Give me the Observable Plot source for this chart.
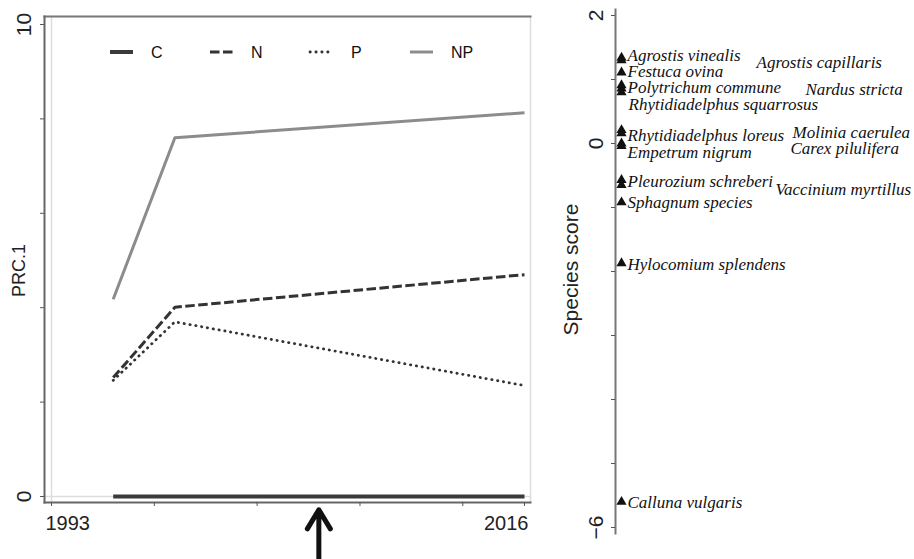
<!DOCTYPE html>
<html><head><meta charset="utf-8">
<script src="https://cdn.jsdelivr.net/npm/d3@7"></script>
<script src="https://cdn.jsdelivr.net/npm/@observablehq/plot@0.6"></script>
<style>
body{margin:0;background:#fff;}
#wrap{position:relative;width:914px;height:559px;overflow:hidden;font-family:"Liberation Sans",Arial,sans-serif;}
#left{position:absolute;left:0;top:0;}
#right{position:absolute;left:560px;top:0;}
#legend{position:absolute;left:0;top:0;}
svg{overflow:visible;}
</style></head><body>
<div id="wrap"><div id="left"></div><div id="right"></div><div id="legend"></div></div>
<script>
// ---- data: principal response curves ----
const years = [1996, 1999, 2016];
const treatments = ["C", "N", "P", "NP"];
const prcC  = [0, 0, 0];
const prcN  = [2.52, 4.01, 4.70];
const prcP  = [2.46, 3.70, 2.35];
const prcNP = [4.18, 7.60, 8.13];
const xTicks = [1993, 1998, 2003, 2008, 2013, 2016];
const xTickLabels = [1993, 2016];
const yTicks = [0, 2, 4, 6, 8, 10];
const yTickLabels = [0, 10];
const arrowYear = [2006];

// ---- data: species scores ----
const species = ["Agrostis vinealis", "Agrostis capillaris", "Festuca ovina", "Polytrichum commune",
  "Nardus stricta", "Rhytidiadelphus squarrosus", "Rhytidiadelphus loreus", "Molinia caerulea",
  "Empetrum nigrum", "Carex pilulifera", "Pleurozium schreberi", "Vaccinium myrtillus",
  "Sphagnum species", "Hylocomium splendens", "Calluna vulgaris"];
const speciesScore = [1.34, 1.30, 1.11, 0.91, 0.86, 0.80, 0.21, 0.16, 0.00, -0.04, -0.57, -0.65, -0.92, -1.87, -5.60];
const scoreTicks = [-6, -5, -4, -3, -2, -1, 0, 1, 2];
const scoreTickLabels = [-6, 0, 2];

// ---- layout (label nudges in px, not data) ----
const labelDx = [12, 141, 12, 12, 190, 13, 12, 177, 12, 175, 12, 160, 12, 12, 12];
const labelDy = [-2, 2, -1, 2, 1, 12, 5, -1, 9, 2, 2, 4, 0, 1, 1];

const series = [prcC, prcN, prcP, prcNP];
const rows = treatments.flatMap((t, i) => years.map((yr, j) => ({treatment: t, year: yr, prc: series[i][j]})));
const lineStyle = {
  C:  {stroke: "#3a3a3a", strokeWidth: 4,   strokeDasharray: null, strokeLinecap: "butt"},
  N:  {stroke: "#333",    strokeWidth: 3,   strokeDasharray: "9.5 3.5", strokeLinecap: "butt"},
  P:  {stroke: "#333",    strokeWidth: 2.8, strokeDasharray: "0.3 5.6", strokeLinecap: "round"},
  NP: {stroke: "#8c8c8c", strokeWidth: 3,   strokeDasharray: null, strokeLinecap: "butt"}
};
const drawOrder = ["NP", "N", "P", "C"];
const fmt = d => (d < 0 ? "\u2212" + Math.abs(d) : String(d));

const left = Plot.plot({
  width: 560, height: 559,
  marginLeft: 44, marginRight: 30, marginTop: 16, marginBottom: 57,
  x: {domain: [1993, 2016], insetLeft: 7, insetRight: 6},
  y: {domain: [0, 10], insetTop: 8, insetBottom: 6},
  style: {fontFamily: "Liberation Sans, Arial, sans-serif", fontSize: "20px", color: "#222", background: "transparent", overflow: "visible"},
  marks: [
    Plot.ruleX([1993], {stroke: "#ddd", strokeWidth: 1.5}),
    Plot.ruleY([0], {stroke: "#ddd", strokeWidth: 1.5}),
    Plot.frame({anchor: "right", stroke: "#ddd", strokeWidth: 1.5}),
    Plot.frame({anchor: "top", stroke: "#777", strokeWidth: 2}),
    Plot.frame({anchor: "left", stroke: "#666", strokeWidth: 2}),
    Plot.frame({anchor: "bottom", stroke: "#666", strokeWidth: 2}),
    Plot.axisY(yTicks, {tickSize: 4, tickPadding: 10, tickRotate: -90, stroke: "#555", label: null, fontSize: 21,
      tickFormat: d => yTickLabels.includes(d) ? fmt(d) : ""}),
    Plot.axisX(xTicks, {tickSize: 4, stroke: "#555", label: null, tickFormat: () => ""}),
    Plot.axisX(xTickLabels.slice(0, 1), {tickSize: 0, tickPadding: 13, textAnchor: "start", dx: -6, label: null, tickFormat: fmt}),
    Plot.axisX(xTickLabels.slice(1), {tickSize: 0, tickPadding: 13, textAnchor: "end", dx: 4, label: null, tickFormat: fmt}),
    Plot.text(["PRC.1"], {frameAnchor: "left", textAnchor: "middle", rotate: -90, dx: -25, dy: 11, fontSize: 18, fill: "#222"}),
    ...drawOrder.map(t => Plot.line(rows.filter(d => d.treatment === t), {
      x: "year", y: "prc", ...lineStyle[t]
    })),
    Plot.arrow(arrowYear, {x1: d => d, x2: d => d, y1: -1.7, y2: -0.28,
      stroke: "#111", strokeWidth: 5, headLength: 18, headAngle: 62})
  ]
});
document.getElementById("left").appendChild(left);

// legend (inside left panel)
const leg = d3.select("#legend").append("svg").attr("width", 560).attr("height", 80);
treatments.forEach((t, i) => {
  const x0 = 110 + 100 * i;
  const s = lineStyle[t];
  leg.append("line").attr("x1", x0).attr("x2", x0 + 23).attr("y1", 52).attr("y2", 52)
    .attr("stroke", s.stroke).attr("stroke-width", s.strokeWidth)
    .attr("stroke-linecap", s.strokeLinecap)
    .attr("stroke-dasharray", s.strokeDasharray);
  leg.append("text").attr("x", x0 + 41).attr("y", 52).attr("dy", "0.35em")
    .attr("font-family", "Liberation Sans, Arial, sans-serif").attr("font-size", 16)
    .attr("fill", "#111").text(t);
});

const spRows = species.map((name, i) => ({name, score: speciesScore[i]}));
const right = Plot.plot({
  width: 354, height: 559,
  marginLeft: 55, marginRight: 0, marginTop: 9, marginBottom: 26,
  y: {domain: [-6, 2], insetTop: 6, insetBottom: 6},
  style: {fontFamily: "Liberation Sans, Arial, sans-serif", fontSize: "20px", color: "#222", background: "transparent", overflow: "visible"},
  marks: [
    Plot.frame({anchor: "left", stroke: "#777", strokeWidth: 2}),
    Plot.axisY(scoreTicks, {tickSize: 4, tickPadding: 9, tickRotate: -90, stroke: "#555", label: null, fontSize: 21,
      tickFormat: d => scoreTickLabels.includes(d) ? fmt(d) : ""}),
    Plot.text(["Species score"], {frameAnchor: "left", textAnchor: "middle", rotate: -90, dx: -44, dy: -2, fontSize: 21, fill: "#222"}),
    Plot.dot(spRows, {y: "score", frameAnchor: "left", dx: 6, symbol: "triangle", r: 3.8, fill: "#111", stroke: "none"}),
    ...spRows.map((d, i) => Plot.text([d], {y: "score", frameAnchor: "left", text: "name",
      textAnchor: "start", dx: labelDx[i], dy: labelDy[i], fontFamily: "Liberation Serif, Times New Roman, serif",
      fontStyle: "italic", fontSize: 17, fill: "#111"}))
  ]
});
document.getElementById("right").appendChild(right);
</script>
</body></html>
